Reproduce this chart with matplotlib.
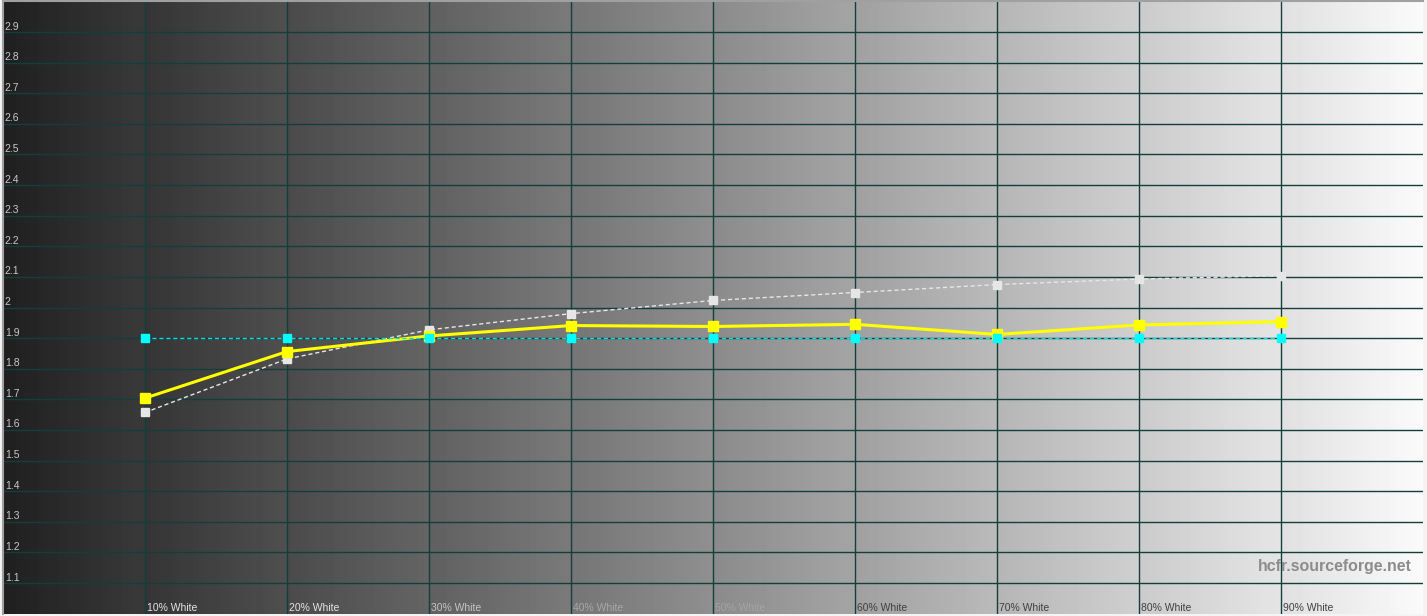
import numpy as np
import matplotlib
matplotlib.use('Agg')
import matplotlib.pyplot as plt

plt.rcParams['font.family'] = ['Liberation Sans', 'DejaVu Sans']

# Datos (gamma por nivel de gris)
levels = ['10% White', '20% White', '30% White', '40% White', '50% White',
          '60% White', '70% White', '80% White', '90% White']
gamma_measured = [1.704, 1.856, 1.907, 1.941, 1.938, 1.945, 1.912, 1.943, 1.954]
gamma_reference = [1.657, 1.832, 1.927, 1.980, 2.023, 2.049, 2.075, 2.093, 2.104]
gamma_target = [1.90, 1.90, 1.90, 1.90, 1.90, 1.90, 1.90, 1.90, 1.90]
y_ticks = [1.1, 1.2, 1.3, 1.4, 1.5, 1.6, 1.7, 1.8, 1.9, 2.0, 2.1, 2.2, 2.3, 2.4,
           2.5, 2.6, 2.7, 2.8, 2.9]
label_colors = ['#e4e4e4', '#e4e4e4', '#c4c4c4', '#a8a8a8', '#a4a4a4',
                '#404040', '#404040', '#404040', '#404040']

W, H = 1427, 616
fig = plt.figure(figsize=(W / 100, H / 100), dpi=100, facecolor='#f4f4f4')
ax = fig.add_axes([3 / W, 2.4 / H, 1420 / W, 612.2 / H])
ax.set_xlim(0, 10)
ax.set_ylim(1.0, 3.0)

# Fondo degradado (casi continuo, con un pequeno salto en cada banda)
n = 1420
pos = np.linspace(0, 10, n, endpoint=False)
grad = 0x22 + (0xf8 - 0x22) * pos / 10 + 5 * ((pos % 1) - 0.5)
grad = np.clip(grad, 0, 252)
ax.imshow(grad[np.newaxis, :], cmap='gray', vmin=0, vmax=255, aspect='auto',
          extent=[0, 10, 1.0, 3.0], zorder=0, interpolation='nearest')

# Rejilla
for xv in range(1, 10):
    ax.axvline(xv, color='#143e3e', lw=1.0, zorder=1)
for yv in y_ticks:
    ax.axhline(yv, color='#143e3e', lw=1.0, zorder=1)

xs = np.arange(1, 10)
ax.plot(xs, gamma_reference, color='#e6e6e6', lw=1, ls=(0, (3, 2)),
        marker='s', ms=6, mec='#e6e6e6', mfc='#e6e6e6', zorder=3)
ax.plot(xs, gamma_measured, color='#ffff00', lw=2.2,
        marker='s', ms=6.5, mec='#ffff00', mfc='#ffff00', zorder=4)
ax.plot(xs, gamma_target, color='#00e0e0', lw=1, ls=(0, (3, 2)),
        marker='s', ms=6, mec='#00ffff', mfc='#00ffff', zorder=5)

# Etiquetas del eje y
for yv in y_ticks:
    txt = '2' if abs(yv - 2.0) < 1e-9 else f'{yv:.1f}'
    ax.text(0.012, yv + 0.008, txt, color='#c8c8c8', fontsize=7.5,
            ha='left', va='baseline', zorder=6)

# Etiquetas del eje x
for xv, lab, c in zip(xs, levels, label_colors):
    ax.text(xv + 0.012, 1.010, lab, color=c, fontsize=7.5,
            ha='left', va='baseline', zorder=6)

ax.text(9.92, 1.153, 'hcfr.sourceforge.net', color='#8c8c8c', fontsize=11.4,
        fontweight='bold', ha='right', va='center', zorder=6)

ax.set_xticks([])
ax.set_yticks([])
for side in ['top', 'left']:
    ax.spines[side].set_color('#a0a0a0')
    ax.spines[side].set_linewidth(1.5)
for side in ['bottom', 'right']:
    ax.spines[side].set_visible(False)

fig.savefig('out.png', dpi=100, facecolor=fig.get_facecolor())
